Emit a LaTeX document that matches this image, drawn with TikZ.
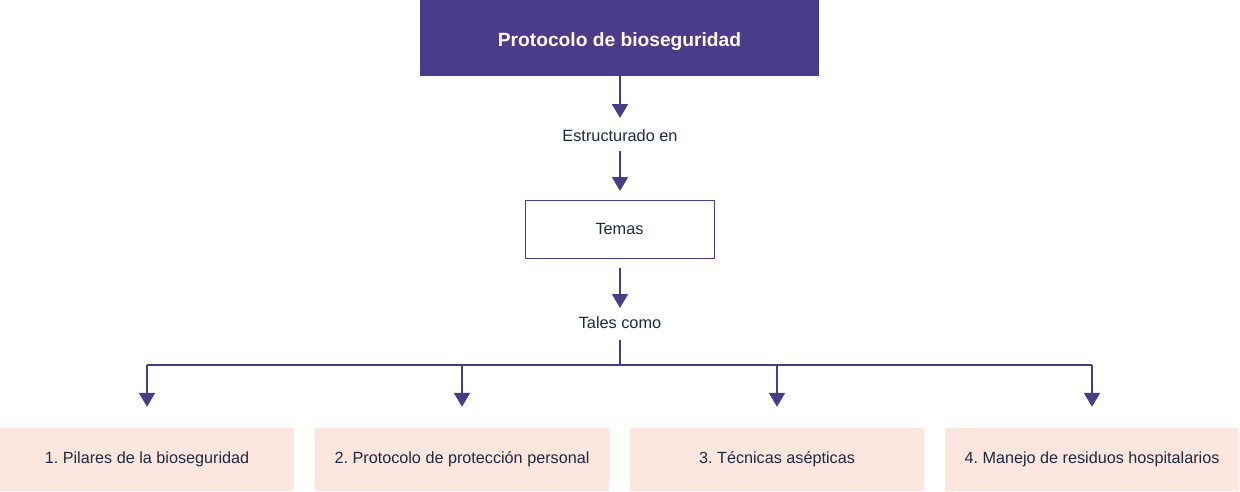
\documentclass[tikz,border=0pt]{standalone}
\usepackage{fontspec}
\setmainfont{Liberation Sans}
\frenchspacing
\usetikzlibrary{arrows.meta}
\definecolor{purp}{HTML}{4A3C8A}
\definecolor{peach}{HTML}{FCE7DF}
\definecolor{txt}{HTML}{1E2A40}
\tikzset{
  conn/.style={draw=purp, line width=2pt},
  arr/.style={conn, -{Triangle[width=16pt,length=14pt]}},
  lbl/.style={font=\fontsize{16.3}{19}\selectfont, text=txt, inner sep=0pt},
  topic/.style={fill=peach, minimum width=294pt, minimum height=63pt, inner sep=0pt, lbl, font=\fontsize{16.2}{19}\selectfont},
}
\begin{document}
\begin{tikzpicture}[x=1pt,y=-1pt]
\useasboundingbox (0,0) rectangle (1240,491);
\node[fill=purp, minimum width=399pt, minimum height=76pt, inner sep=0pt, text=white, text height=17.6pt, text depth=0pt, font=\bfseries\fontsize{19.2}{22}\selectfont] (top) at (619.5,38) {Protocolo de bioseguridad};
\coordinate (a1s) at (620,76);
\coordinate (a1e) at (620,118);
\node[lbl] (estr) at (620,136) {Estructurado en};
\coordinate (a2s) at (620,151);
\coordinate (a2e) at (620,191);
\node[draw=purp, line width=1pt, fill=white, minimum width=189pt, minimum height=58pt, inner sep=0pt, lbl] (temas) at (619.5,229) {Temas};
\coordinate (a3s) at (620,268);
\coordinate (a3e) at (620,308);
\node[lbl] (tales) at (620,323) {Tales como};
\coordinate (br) at (620,340);
\coordinate (bar) at (620,365);
\node[topic] (t1) at (147,459.5) {1. Pilares de la bioseguridad};
\node[topic] (t2) at (462,459.5) {2. Protocolo de protección personal};
\node[topic] (t3) at (777,459.5) {3. Técnicas asépticas};
\node[topic] (t4) at (1092,459.5) {4. Manejo de residuos hospitalarios};
\draw[arr] (a1s) -- (a1e);
\draw[arr] (a2s) -- (a2e);
\draw[arr] (a3s) -- (a3e);
\draw[conn] (br) -- (bar);
\draw[conn] (t1.north |- bar) -- (t4.north |- bar);
\foreach \t in {t1,t2,t3,t4}{
  \draw[arr] (\t.north |- bar) -- ([yshift=21pt]\t.north);
}
\end{tikzpicture}
\end{document}
